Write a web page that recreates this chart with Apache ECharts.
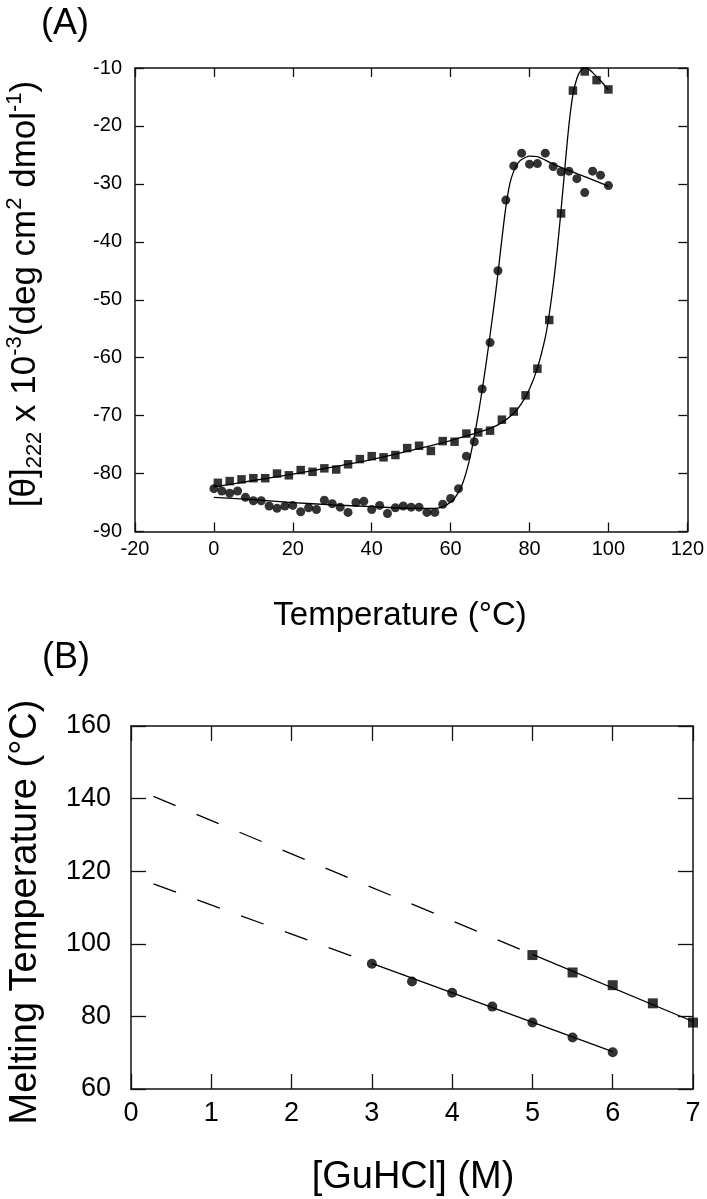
<!DOCTYPE html>
<html><head><meta charset="utf-8">
<script src="https://cdn.jsdelivr.net/npm/echarts@6/dist/echarts.min.js"></script>
<style>html,body{margin:0;padding:0;background:#fff}#c{width:707px;height:1199px}</style>
</head><body><div id="c"></div>
<script>
// ---------- Panel A data ----------
const tempCircle = [0,2,4,6,8,10,12,14,16,18,20,22,24,26,28,30,32,34,36,38,40,42,44,46,48,50,52,54,56,58,60,62,64,66,68,70,72,74,76,78,80,82,84,86,88,90,92,94,96,98,100];
const thetaCircle = [-82.6,-83.0,-83.4,-83.0,-84.1,-84.7,-84.7,-85.6,-86.0,-85.6,
  -85.5,-86.6,-85.9,-86.2,-84.6,-85.2,-85.8,-86.7,-85.0,-84.8,
  -86.2,-85.5,-86.9,-85.9,-85.6,-85.8,-85.8,-86.7,-86.7,-85.3,
  -84.3,-82.6,-77.0,-74.5,-65.4,-57.4,-45.0,-32.8,-26.9,-24.7,
  -26.6,-26.5,-24.7,-27.0,-27.9,-27.8,-29.1,-31.5,-27.8,-28.5,-30.3];
const tempSquare = [1,4,7,10,13,16,19,22,25,28,31,34,37,40,43,46,49,52,55,58,61,64,67,70,73,76,79,82,85,88,91,94,97,100];
const thetaSquare = [-81.6,-81.3,-81.0,-80.8,-80.8,-80.0,-80.3,-79.4,-79.7,-79.1,
  -79.3,-78.4,-77.5,-77.0,-77.2,-76.8,-75.6,-75.2,-76.1,-74.4,
  -74.5,-73.1,-72.9,-72.6,-70.7,-69.3,-66.5,-61.9,-53.5,-35.1,
  -13.9,-10.6,-12.1,-13.7];
// fitted curves
const fitCircleT = [0,10,20,30,40,50,56,59,61,63,65,67,69,71,72,73,74,75,76,77,78,80,82,84,86,90,95,100];
const fitCircleY = [-84.1,-84.5,-85.0,-85.4,-85.7,-86.0,-86.0,-85.4,-84.3,-81.8,-77.0,-69.8,-61.0,-51.0,-45.5,-39.5,-34.0,-30.0,-27.8,-26.5,-25.8,-25.2,-25.3,-25.9,-26.6,-27.7,-29.0,-30.4];
const fitSquareT = [0,10,20,30,40,50,60,65,70,73,76,78,80,82,84,85,86,87,88,89,90,91,92,93,94,95,96,98,100];
const fitSquareY = [-82.3,-81.2,-80.1,-78.9,-77.6,-76.0,-74.3,-73.3,-72.2,-71.2,-69.6,-67.9,-65.4,-61.8,-56.5,-52.5,-47.5,-41.5,-34.5,-27.0,-19.8,-14.6,-11.8,-10.4,-10.0,-10.2,-10.8,-12.2,-13.8];

// ---------- Panel B data ----------
const guhclCircle = [3.0,3.5,4.0,4.5,5.0,5.5,6.0];
const tmCircle = [94.5,89.6,86.5,82.7,78.3,74.2,70.1];
const guhclSquare = [5.0,5.5,6.0,6.5,7.0];
const tmSquare = [96.9,92.1,88.6,83.6,78.3];
const fitCircleBSolid = [[3.0,94.6],[6.0,70.3]];
const fitCircleBDash = [[0.28,116.5],[3.0,94.6]];
const fitSquareBSolid = [[5.0,97.1],[7.0,78.6]];
const fitSquareBDash = [[0.28,140.6],[5.0,97.1]];

const FONT = "'Liberation Sans', Arial, Helvetica, sans-serif";
const zip = (a,b) => a.map((v,i)=>[v,b[i]]);

function ax(grid, pos, min, max, interval, fs, margin, tl, show) {
  return {type:'value', gridIndex:grid, position:pos, min, max, interval,
    axisLine:{show:true, onZero:false, lineStyle:{color:'#111', width:1.5}},
    axisTick:{show:true, inside:true, length:tl, lineStyle:{color:'#111', width:1.3}},
    axisLabel:{show:show, fontSize:fs, margin, color:'#000', fontFamily:FONT},
    splitLine:{show:false}};
}

const chart = echarts.init(document.getElementById('c'), null, {renderer:'canvas'});
const option = {
  backgroundColor:'#fff',
  animation:false,
  grid:[
    {left:135, top:68, width:554, height:463.5},
    {left:131, top:726, width:562, height:363}
  ],
  xAxis:[
    ax(0,'bottom',-20,120,20,20,8,9,true),
    ax(0,'top',-20,120,20,20,8,9,false),
    ax(1,'bottom',0,7,1,27,11,15,true),
    ax(1,'top',0,7,1,27,11,15,false)
  ],
  yAxis:[
    ax(0,'left',-90,-10,10,20,13,9,true),
    ax(0,'right',-90,-10,10,20,13,9,false),
    ax(1,'left',60,160,20,27,20,15,true),
    ax(1,'right',60,160,20,27,20,15,false)
  ],
  series:[
    {type:'line', xAxisIndex:0, yAxisIndex:0, data:zip(fitCircleT,fitCircleY), showSymbol:false, smooth:0.3, lineStyle:{color:'#000', width:1.3}, z:2},
    {type:'line', xAxisIndex:0, yAxisIndex:0, data:zip(fitSquareT,fitSquareY), showSymbol:false, smooth:0.3, lineStyle:{color:'#000', width:1.3}, z:2},
    {type:'scatter', xAxisIndex:0, yAxisIndex:0, data:zip(tempCircle,thetaCircle), symbol:'circle', symbolSize:9, itemStyle:{color:'#000'}, z:3},
    {type:'scatter', xAxisIndex:0, yAxisIndex:0, data:zip(tempSquare,thetaSquare), symbol:'rect', symbolSize:8.5, itemStyle:{color:'#000'}, z:3},

    {type:'line', xAxisIndex:2, yAxisIndex:2, data:fitCircleBSolid, showSymbol:false, lineStyle:{color:'#000', width:1.3}, z:2},
    {type:'line', xAxisIndex:2, yAxisIndex:2, data:fitCircleBDash, showSymbol:false, lineStyle:{color:'#000', width:1.3, type:[24,22.6]}, z:2},
    {type:'line', xAxisIndex:2, yAxisIndex:2, data:fitSquareBSolid, showSymbol:false, lineStyle:{color:'#000', width:1.3}, z:2},
    {type:'line', xAxisIndex:2, yAxisIndex:2, data:fitSquareBDash, showSymbol:false, lineStyle:{color:'#000', width:1.3, type:[24,22.6]}, z:2},
    {type:'scatter', xAxisIndex:2, yAxisIndex:2, data:zip(guhclCircle,tmCircle), symbol:'circle', symbolSize:10, itemStyle:{color:'#000'}, z:3},
    {type:'scatter', xAxisIndex:2, yAxisIndex:2, data:zip(guhclSquare,tmSquare), symbol:'rect', symbolSize:10, itemStyle:{color:'#000'}, z:3}
  ],
  graphic:[
    {type:'text', x:65, y:24, style:{text:'(A)', font:'36px '+FONT, fill:'#000', align:'center', verticalAlign:'middle'}},
    {type:'text', x:66, y:658, style:{text:'(B)', font:'36px '+FONT, fill:'#000', align:'center', verticalAlign:'middle'}},
    {type:'text', x:400, y:616, style:{text:'Temperature (°C)', font:'33px '+FONT, fill:'#000', align:'center', verticalAlign:'middle'}},
    {type:'text', x:413, y:1178, style:{text:'[GuHCl] (M)', font:'38px '+FONT, fill:'#000', align:'center', verticalAlign:'middle'}},
    {type:'text', x:26, y:912, rotation:Math.PI/2, style:{text:'Melting Temperature (°C)', font:'38px '+FONT, fill:'#000', align:'center', verticalAlign:'middle'}},
    {type:'text', x:25, y:294, rotation:Math.PI/2, style:{
      text:'{b|[θ]}{s|222}{b| x 10}{p|-3}{b|(deg cm}{p|2}{b| dmol}{p|-1}{b|)}',
      align:'center', verticalAlign:'middle', fill:'#000',
      rich:{
        b:{fontSize:35, fontFamily:FONT, lineHeight:42, fill:'#000', verticalAlign:'middle'},
        s:{fontSize:22, fontFamily:FONT, lineHeight:24, fill:'#000', verticalAlign:'bottom'},
        p:{fontSize:22, fontFamily:FONT, lineHeight:24, fill:'#000', verticalAlign:'top'}
      }}}
  ]
};
chart.setOption(option);
</script>
</body></html>
